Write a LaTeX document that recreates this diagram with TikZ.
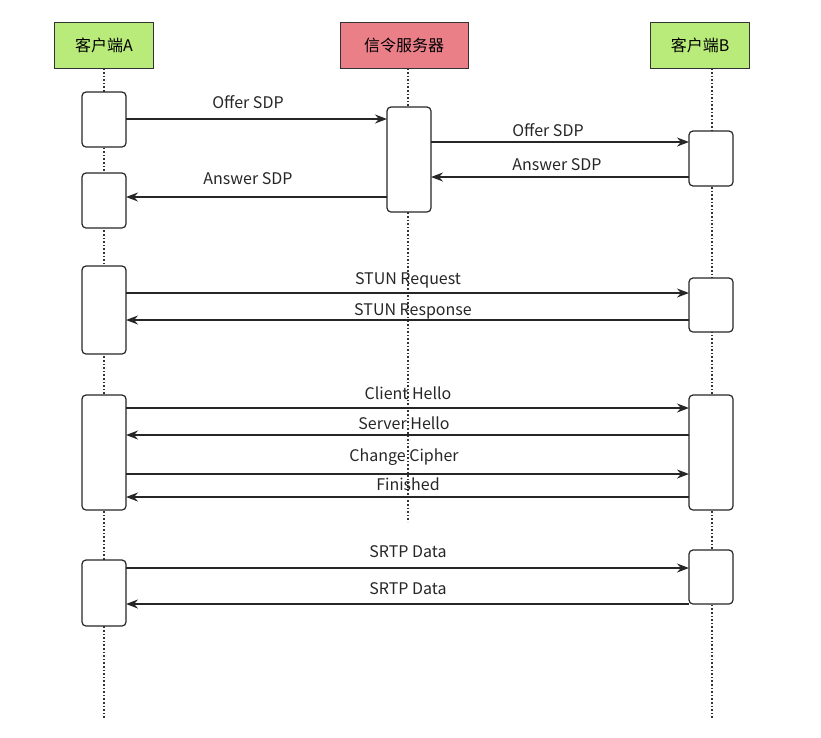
\documentclass[tikz,border=0pt]{standalone}
\usepackage{fontspec}
\setmainfont{Noto Sans CJK SC}
\usetikzlibrary{arrows.meta}
\definecolor{hgreen}{HTML}{B8EB7A}
\definecolor{hred}{HTML}{EA7F88}
\begin{document}
\begin{tikzpicture}[x=1pt,y=-1pt,
  hdr/.style={draw=black!80,line width=0.8pt,minimum width=99pt,minimum height=46pt,font=\fontsize{16}{18}\selectfont},
  act/.style={draw=black!85,line width=1.2pt,rounded corners=4pt,fill=white},
  life/.style={line width=1.6pt,dotted,black!80},
  msg/.style={line width=1.4pt,black!85,-{Stealth[length=12pt,width=9pt]}},
  lbl/.style={font=\fontsize{16}{18}\selectfont,text=black!85,inner sep=0pt}]
\useasboundingbox (0,0) rectangle (821,737);
\node[hdr,fill=hgreen] (A) at (104,45) {客户端A};
\node[hdr,fill=hred,minimum width=128pt] (S) at (404,45) {信令服务器};
\node[hdr,fill=hgreen] (B) at (700,45) {客户端B};
\coordinate (Ae) at (104,718); \coordinate (Se) at (408,522); \coordinate (Be) at (712,718);
\draw[life] (A.south) -- (Ae);
\draw[life] (S.south -| Se) -- (Se);
\draw[life] (B.south -| Be) -- (Be);
% activations
\draw[act] (82,92) rectangle (126,147);
\draw[act] (82,173) rectangle (126,228);
\draw[act] (82,266) rectangle (126,354);
\draw[act] (82,395) rectangle (126,510);
\draw[act] (82,560) rectangle (126,626);
\draw[act] (387,107) rectangle (431,212);
\draw[act] (689,131) rectangle (733,186);
\draw[act] (689,278) rectangle (733,332);
\draw[act] (689,395) rectangle (733,510);
\draw[act] (689,550) rectangle (733,604);
% messages
\coordinate (a1) at (126,119); \coordinate (s1) at (387,119);
\draw[msg] (a1) -- (s1); \node[lbl] (l1) at (248,102) {Offer SDP};
\coordinate (s2) at (431,142); \coordinate (b2) at (689,142);
\draw[msg] (s2) -- (b2); \node[lbl] (l2) at (548,130) {Offer SDP};
\coordinate (b3) at (689,177); \coordinate (s3) at (431,177);
\draw[msg] (b3) -- (s3); \node[lbl] (l3) at (557,165) {Answer SDP};
\coordinate (s4) at (387,197); \coordinate (a4) at (126,197);
\draw[msg] (s4) -- (a4); \node[lbl] (l4) at (248,179) {Answer SDP};
\coordinate (a5) at (126,293); \coordinate (b5) at (689,293);
\draw[msg] (a5) -- (b5); \node[lbl] (l5) at (408,280) {STUN Request};
\coordinate (b6) at (689,320); \coordinate (a6) at (126,320);
\draw[msg] (b6) -- (a6); \node[lbl] (l6) at (413,311) {STUN Response};
\coordinate (a7) at (126,408); \coordinate (b7) at (689,408);
\draw[msg] (a7) -- (b7); \node[lbl] (l7) at (408,393) {Client Hello};
\coordinate (b8) at (689,435); \coordinate (a8) at (126,435);
\draw[msg] (b8) -- (a8); \node[lbl] (l8) at (404,423) {Server Hello};
\coordinate (a9) at (126,474); \coordinate (b9) at (689,474);
\draw[msg] (a9) -- (b9); \node[lbl] (l9) at (404,457) {Change Cipher};
\coordinate (b10) at (689,497); \coordinate (a10) at (126,497);
\draw[msg] (b10) -- (a10); \node[lbl] (l10) at (408,484) {Finished};
\coordinate (a11) at (126,568); \coordinate (b11) at (689,568);
\draw[msg] (a11) -- (b11); \node[lbl] (l11) at (408,552) {SRTP Data};
\coordinate (b12) at (689,604); \coordinate (a12) at (126,604);
\draw[msg] (b12) -- (a12); \node[lbl] (l12) at (408,589) {SRTP Data};
\end{tikzpicture}
\end{document}
